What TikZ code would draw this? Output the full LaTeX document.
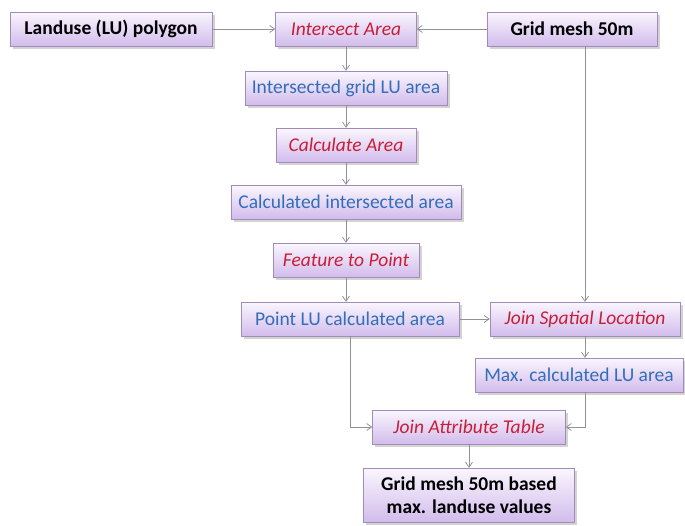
\documentclass[tikz,border=0pt]{standalone}
\usepackage{fontspec}
\setmainfont{Carlito}
\usetikzlibrary{shadows,arrows.meta}
\definecolor{boxtop}{RGB}{250,246,254}
\definecolor{boxbot}{RGB}{210,188,236}
\definecolor{boxline}{RGB}{160,140,185}
\definecolor{toolred}{RGB}{200,30,55}
\definecolor{datablue}{RGB}{50,110,185}
\definecolor{linegray}{RGB}{145,145,155}
\tikzset{
  box/.style={draw=boxline, top color=boxtop, bottom color=boxbot,
    minimum height=34pt, inner sep=1pt,
    drop shadow={shadow xshift=2.5pt, shadow yshift=-2.5pt, opacity=0.35},
    font=\fontsize{19.5}{22}\selectfont},
  inbox/.style={box, font=\fontsize{19.5}{23}\selectfont\bfseries},
  toolbox/.style={box, text=toolred, font=\fontsize{19.5}{22}\selectfont\itshape},
  databox/.style={box, text=datablue},
  flow/.style={draw=linegray, line width=0.8pt, -{Straight Barb[length=5pt,width=7pt]}}
}
\begin{document}
\begin{tikzpicture}[x=1pt,y=-1pt]
  \useasboundingbox (0,0) rectangle (685,525);
  \draw
    (111,29) node[inbox, minimum width=202pt] (lu){Landuse (LU) polygon}
    (346,29) node[toolbox, minimum width=141pt] (isect){Intersect Area}
    (572,29) node[inbox, minimum width=170pt] (grid){Grid mesh 50m}
    (346,88) node[databox, minimum width=202pt] (igla){Intersected grid LU area}
    (346,145) node[toolbox, minimum width=140pt] (calc){Calculate Area}
    (346,202) node[databox, minimum width=230pt] (cia){Calculated intersected area}
    (346,260) node[toolbox, minimum width=146pt] (ftp){Feature to Point}
    (350,319) node[databox, minimum width=218pt] (plu){Point LU calculated area}
    (585,319) node[toolbox, minimum width=190pt] (jsl){Join Spatial Location}
    (579,375) node[databox, minimum width=208pt] (maxa){Max. calculated LU area}
    (469,427) node[toolbox, minimum width=193pt] (jat){Join Attribute Table}
    (469,495) node[inbox, minimum width=211pt, minimum height=54pt, align=center] (out){Grid mesh 50m based\\max. landuse values};
  \begin{scope}[flow]
    \draw (lu) to (isect);
    \draw (grid) to (isect);
    \draw (isect) to (igla);
    \draw (igla) to (calc);
    \draw (calc) to (cia);
    \draw (cia) to (ftp);
    \draw (ftp.south) to (ftp.south |- plu.north);
    \draw (jsl.north |- grid.south) to (jsl.north);
    \draw (plu) to (jsl);
    \draw (jsl.south) to (jsl.south |- maxa.north);
    \draw (plu.south) |- (jat.west);
    \draw (jsl.south |- maxa.south) |- (jat.east);
    \draw (jat) to (out);
  \end{scope}
\end{tikzpicture}
\end{document}
